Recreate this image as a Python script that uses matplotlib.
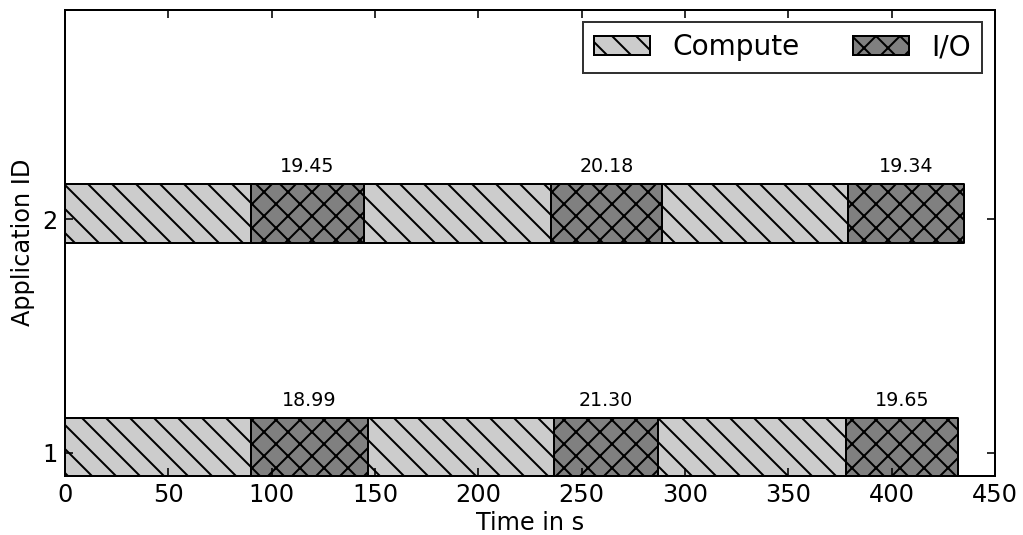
import matplotlib
matplotlib.use("Agg")
import matplotlib.pyplot as plt

# phases per application: (start, duration)
app_ids = [1, 2]
compute_1 = [(0, 89.8), (146.8, 89.9), (286.8, 91.0)]
io_1 = [(89.8, 57.0), (236.7, 50.1), (377.8, 54.4)]
compute_2 = [(0, 89.8), (144.8, 90.4), (288.8, 89.9)]
io_2 = [(89.8, 55.0), (235.2, 53.6), (378.7, 56.4)]
io_labels_1 = ["18.99", "21.30", "19.65"]
io_labels_2 = ["19.45", "20.18", "19.34"]

computes = [compute_1, compute_2]
ios = [io_1, io_2]
io_labels = [io_labels_1, io_labels_2]

fig = plt.figure(figsize=(1023 / 144, 535 / 144), dpi=144)
ax = fig.add_axes([0.0635, 0.1103, 0.9091, 0.8719])

bar_h = 0.25
for app, comp, io, labs in zip(app_ids, computes, ios, io_labels):
    ax.broken_barh(comp, (app - 0.1, bar_h), facecolors='#cccccc',
                   edgecolor='black', hatch='\\\\', linewidth=1.0,
                   label='Compute' if app == 1 else None)
    ax.broken_barh(io, (app - 0.1, bar_h), facecolors='#808080',
                   edgecolor='black', hatch='xx', linewidth=1.0,
                   label='I/O' if app == 1 else None)
    for (start, dur), lab in zip(io, labs):
        ax.text(start + dur / 2, app + 0.185, lab, ha='center', va='bottom',
                fontsize=9.5)

ax.set_xlim(0, 450)
ax.set_ylim(0.9, 2.9)
ax.set_yticks(app_ids)
ax.set_xlabel('Time in s', fontsize=12, labelpad=2)
ax.set_ylabel('Application ID', fontsize=12)
ax.tick_params(direction='in', length=4, top=True, right=True, labelsize=12)
for s in ax.spines.values():
    s.set_linewidth(1.0)

leg = ax.legend(loc='upper right', ncol=2, fontsize=14, fancybox=False,
                handlelength=2.0, handletextpad=0.8, columnspacing=1.9,
                borderaxespad=0.45)
leg.get_frame().set_edgecolor('black')
leg.get_frame().set_linewidth(1.0)

fig.savefig('out.png', dpi=144)
